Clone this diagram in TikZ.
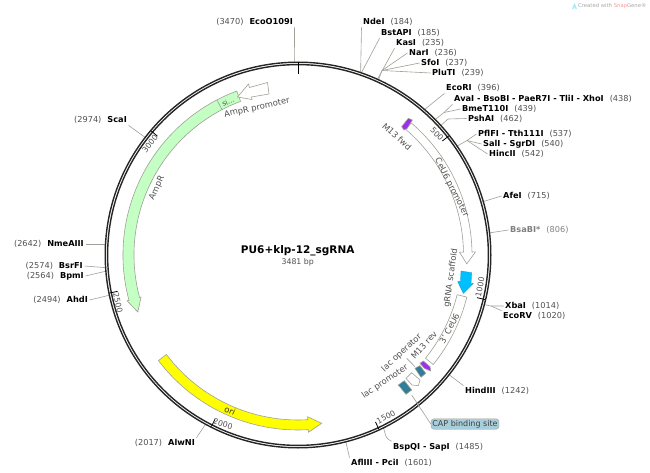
\documentclass[tikz,border=0pt]{standalone}
\usepackage{fontspec}
\setmainfont{DejaVu Sans}
\definecolor{numgray}{HTML}{505050}
\definecolor{linegray}{HTML}{A0A098}
\definecolor{ampgreen}{HTML}{C4FFC4}
\definecolor{oriyellow}{HTML}{FFFF00}
\definecolor{rnablue}{HTML}{00BFFF}
\definecolor{m13purple}{HTML}{9A30E8}
\definecolor{lacteal}{HTML}{2F7F98}
\definecolor{capblue}{HTML}{A8CEDC}
\newcommand{\sname}[1]{\textcolor{black}{\textbf{#1}}}
\tikzset{
  siter/.style={anchor=west, inner sep=1.5pt, text=numgray, font=\fontsize{8.2}{9}\selectfont},
  sitel/.style={anchor=east, inner sep=1.5pt, text=numgray, font=\fontsize{8.2}{9}\selectfont},
  leader/.style={linegray, line width=0.6pt},
  feature/.style={draw=linegray, line width=0.6pt},
  ticklbl/.style={inner sep=0pt, text=numgray, font=\fontsize{7.8}{9}\selectfont},
  featlbl/.style={inner sep=0pt, text=numgray, font=\fontsize{8.4}{9}\selectfont},
  backbone/.style={draw=black!85, line width=1.4pt},
  poltick/.style={black, line width=0.8pt}
}
\begin{document}
\begin{tikzpicture}[x=1pt,y=-1pt]
  \useasboundingbox (0,0) rectangle (650,473);

  % Watermark
  \fill[rnablue!35] (572,9) -- (574.5,3) -- (577,9) -- (575.5,9) -- (574.5,6.5) -- (573.5,9) -- cycle;
  \node (mark) [anchor=west, inner sep=0pt, text=black!35, font=\fontsize{5.3}{7}\selectfont] at (578,6) {Created with \textcolor{red!40}{Snap}Gene®};

  % Enzyme sites, right side
  \node[siter] (NdeI) at (361.5,22) {\sname{NdeI}\hspace{6pt}(184)};
  \node[siter] (BstAPI) at (379.5,33) {\sname{BstAPI}\hspace{6pt}(185)};
  \node[siter] (KasI) at (394.5,43) {\sname{KasI}\hspace{6pt}(235)};
  \node[siter] (NarI) at (407.5,53) {\sname{NarI}\hspace{6pt}(236)};
  \node[siter] (SfoI) at (419.5,63) {\sname{SfoI}\hspace{6pt}(237)};
  \node[siter] (PluTI) at (430.5,73) {\sname{PluTI}\hspace{6pt}(239)};
  \node[siter] (EcoRI) at (444.5,88) {\sname{EcoRI}\hspace{6pt}(396)};
  \node[siter] (AvaI) at (452.5,99) {\sname{AvaI - BsoBI - PaeR7I - TliI - XhoI}\hspace{6pt}(438)};
  \node[siter] (BmeT) at (460.5,109) {\sname{BmeT110I}\hspace{6pt}(439)};
  \node[siter] (PshAI) at (466.5,118.5) {\sname{PshAI}\hspace{6pt}(462)};
  \node[siter] (PflFI) at (476.5,134) {\sname{PflFI - Tth111I}\hspace{6pt}(537)};
  \node[siter] (SalI) at (481.5,144) {\sname{SalI - SgrDI}\hspace{6pt}(540)};
  \node[siter] (HincII) at (487.5,154) {\sname{HincII}\hspace{6pt}(542)};
  \node[siter] (AfeI) at (501.5,196) {\sname{AfeI}\hspace{6pt}(715)};
  \node[siter, text=black!50] (BsaBI) at (508.5,230) {\textbf{BsaBI*}\hspace{6pt}(806)};
  \node[siter] (XbaI) at (503.5,306) {\sname{XbaI}\hspace{6pt}(1014)};
  \node[siter] (EcoRV) at (501.5,316) {\sname{EcoRV}\hspace{6pt}(1020)};
  \node[siter] (HindIII) at (463.5,391) {\sname{HindIII}\hspace{6pt}(1242)};
  \node[siter] (BspQI) at (391.5,447) {\sname{BspQI - SapI}\hspace{6pt}(1485)};
  \node[siter] (AflIII) at (349.5,463) {\sname{AflIII - PciI}\hspace{6pt}(1601)};

  % Enzyme sites, left side
  \node[sitel] (EcoO) at (294.5,22) {(3470)\hspace{6pt}\sname{EcoO109I}};
  \node[sitel] (ScaI) at (128.5,120) {(2974)\hspace{6pt}\sname{ScaI}};
  \node[sitel] (NmeAIII) at (85.5,244) {(2642)\hspace{6pt}\sname{NmeAIII}};
  \node[sitel] (BsrFI) at (84.5,266) {(2574)\hspace{6pt}\sname{BsrFI}};
  \node[sitel] (BpmI) at (85.5,276) {(2564)\hspace{6pt}\sname{BpmI}};
  \node[sitel] (AhdI) at (89.5,300) {(2494)\hspace{6pt}\sname{AhdI}};
  \node[sitel] (AlwNI) at (196.5,443) {(2017)\hspace{6pt}\sname{AlwNI}};

  % Points on the backbone
  \coordinate (rNdeI) at (360.6,73);
  \coordinate (rBstAPI) at (361,73.5);
  \coordinate (rKasI) at (377,80);
  \coordinate (rPluTI) at (378.2,80.6);
  \coordinate (rEcoRI) at (424,110);
  \coordinate (rAvaI) at (434.5,120);
  \coordinate (rPshAI) at (440.3,126);
  \coordinate (rPflFI) at (456.5,146.5);
  \coordinate (rAfeI) at (482.5,201.8);
  \coordinate (rBsaBI) at (488.7,233);
  \coordinate (rXbaI) at (483.6,304.4);
  \coordinate (rHindIII) at (448.5,374.3);
  \coordinate (rBspQI) at (383.4,427);
  \coordinate (rAflIII) at (345.7,441);
  \coordinate (rEcoO) at (294.4,63);
  \coordinate (rScaI) at (146,138);
  \coordinate (rNmeAIII) at (106.3,244);
  \coordinate (rBsrFI) at (106.4,267.7);
  \coordinate (rBpmI) at (106.7,271);
  \coordinate (rAhdI) at (110.3,295);
  \coordinate (rAlwNI) at (206,423.6);

  % Elbows
  \coordinate (kNar) at (382,70.5);
  \coordinate (kAva) at (444,112.5);
  \coordinate (kPsh) at (448,119);
  \coordinate (kPfl) at (467,140.5);
  \coordinate (kXba) at (491,306);

  % Leaders
  \draw[leader] (NdeI.south west) -- (rNdeI);
  \draw[leader] (BstAPI.south west) -- (rBstAPI);
  \draw[leader] (KasI.south west) -- (rKasI);
  \draw[leader] (NarI.west) -- (kNar) -- (rPluTI);
  \draw[leader] (SfoI.west) -- (kNar);
  \draw[leader] (PluTI.west) -- (kNar);
  \draw[leader] (EcoRI.south west) -- (rEcoRI);
  \draw[leader] (AvaI.south west) -- (kAva) -- (rAvaI);
  \draw[leader] (BmeT.west) -- (kAva);
  \draw[leader] (PshAI.west) -- (kPsh) -- (rPshAI);
  \draw[leader] (PflFI.west) -- (kPfl) -- (rPflFI);
  \draw[leader] (SalI.west) -- (kPfl);
  \draw[leader] (HincII.west) -- (kPfl);
  \draw[leader] (AfeI.west) -- (rAfeI);
  \draw[leader] (BsaBI.west) -- (rBsaBI);
  \draw[leader] (XbaI.west) -- (kXba) -- (rXbaI);
  \draw[leader] (EcoRV.north west) -- (kXba);
  \draw[leader] (HindIII.north west) -- (rHindIII);
  \draw[leader] (BspQI.north west) .. controls (386,438) .. (rBspQI);
  \draw[leader] (AflIII.north west) -- (rAflIII);
  \draw[leader] (EcoO.south east) -- (rEcoO);
  \draw[leader] (ScaI.south east) -- (rScaI);
  \draw[leader] (NmeAIII.east) -- (rNmeAIII);
  \draw[leader] (BsrFI.east) -- (rBsrFI);
  \draw[leader] (BpmI.east) -- (rBpmI);
  \draw[leader] (AhdI.east) -- (rAhdI);
  \draw[leader] (AlwNI.north east) -- (rAlwNI);

  \begin{scope}[shift={(298,255)}]
    % Backbone
    \fill[white] (0,0) circle[radius=191.7];
    \draw[backbone] (0,0) circle[radius=192.8];
    \draw[backbone] (0,0) circle[radius=190.4];

    % Ticks
    \draw[poltick] (-90:193) -- (-90:181);
    \draw[poltick] (-38.3:192) -- (-38.3:184);
    \draw[poltick] (13.4:192) -- (13.4:184);
    \draw[poltick] (65.1:192) -- (65.1:184);
    \draw[poltick] (116.8:192) -- (116.8:184);
    \draw[poltick] (168.6:192) -- (168.6:184);
    \draw[poltick] (220.2:192) -- (220.2:184);

    % AmpR
    \draw[feature, fill=ampgreen] (249.5:175) arc[start angle=249.5, end angle=165, radius=175] -- (165:177) -- (160.4:170) -- (165:162.5) -- (165:164) arc[start angle=165, end angle=249.5, radius=164] -- cycle;
    \draw[feature] (242.4:175) -- (242.4:164);

    % ori
    \draw[feature, fill=oriyellow] (142.9:175) arc[start angle=142.9, end angle=86.6, radius=175] -- (86.6:177.5) -- (82:170) -- (86.6:162) -- (86.6:165) arc[start angle=86.6, end angle=142.9, radius=165] -- cycle;

    % CeU6 promoter
    \draw[feature, fill=white] (-49.4:174) arc[start angle=-49.4, end angle=-1, radius=174] -- (-1:177.5) -- (3:169) -- (-1:161.5) -- (-1:165.5) arc[start angle=-1, end angle=-49.4, radius=165.5] -- cycle;

    % 3' CeU6
    \draw[feature, fill=white] (14:174) arc[start angle=14, end angle=39, radius=174] -- (39:164) arc[start angle=39, end angle=14, radius=164] -- cycle;
  \end{scope}

  % Small features
  \draw[feature, fill=m13purple] (401.7,126.7) -- (408.3,118.3) -- (412.3,120) -- (407.3,128.3) -- (404,130) -- cycle;
  \draw[feature, fill=m13purple] (420,363.3) -- (423.3,361) -- (430,366.7) -- (430.7,371) -- (424.3,368.3) -- cycle;
  \draw[feature, fill=lacteal] (415,368.3) -- (420,365.7) -- (425.7,373.3) -- (421,377.3) -- cycle;
  \draw[feature, fill=white] (406,378.3) -- (411.7,372.7) -- (420,380) -- (418.3,385.7) -- (412,385) -- cycle;
  \draw[feature, fill=lacteal] (398.3,385) -- (404.3,380.7) -- (411.7,390) -- (406,394.3) -- cycle;
  \draw[draw=rnablue!80!black, line width=0.3pt, fill=rnablue] (461,271) -- (471.7,272.7) -- (471,283.3) -- (473.3,283.3) -- (463.3,293.3) -- (457.7,281.7) -- (460.5,281) -- cycle;
  \draw[feature, fill=white] (237.5,97) -- (248.5,84) -- (249.5,87.5) -- (267.5,82.5) -- (269,94) -- (251.5,97) -- (252,99.5) -- cycle;

  % CAP binding site
  \node[draw=linegray, fill=capblue, rounded corners=3pt, inner sep=0pt, minimum width=68pt, minimum height=10.5pt, text=black!75, font=\fontsize{8}{9}\selectfont] (CAP) at (465,424) {CAP binding site};
  \coordinate (rCAP) at (411.7,395);
  \coordinate (rLac) at (415,366.7);
  \coordinate (lLac) at (406.7,358.3);
  \draw[leader] (CAP.west) -- (rCAP);
  \draw[leader] (lLac) -- (rLac);

  % Tick labels
  \node[ticklbl, rotate=-47] (t500) at (437,134) {500};
  \node[ticklbl, rotate=79] (t1000) at (480,287) {1000};
  \node[ticklbl, rotate=27] (t1500) at (386,417) {1500};
  \node[ticklbl, rotate=-17] (t2000) at (223,424) {2000};
  \node[ticklbl, rotate=-78] (t2500) at (118,303) {2500};
  \node[ticklbl, rotate=52] (t3000) at (150,144) {3000};

  % Feature labels
  \node[featlbl, rotate=12] (lAmpP) at (257,108) {AmpR promoter};
  \node[featlbl, rotate=65] (lAmp) at (157,188) {AmpR};
  \node[featlbl, rotate=22, font=\fontsize{7}{8}\selectfont] (lSig) at (228,102) {si...};
  \node[featlbl, rotate=-25, text=black!80] (lOri) at (230,410.7) {ori};
  \node[featlbl, rotate=-42] (lFwd) at (397,136.7) {M13 fwd};
  \node[featlbl, rotate=-63] (lCeU) at (451.5,187.5) {CeU6 promoter};
  \node[featlbl, rotate=82] (lScaf) at (451,278) {gRNA scaffold};
  \node[featlbl, rotate=62] (l3CeU) at (449.5,328.5) {3' CeU6};
  \node[featlbl, rotate=48] (lRev) at (424,345) {M13 rev};
  \node[featlbl, rotate=43] (lOp) at (401.7,353) {lac operator};
  \node[featlbl, rotate=34] (lPro) at (385,381.7) {lac promoter};

  % Plasmid name
  \node[inner sep=0pt, font=\fontsize{10.5}{12}\bfseries\selectfont] (plasmid) at (297.7,251) {PU6+klp-12\_sgRNA};
  \node[inner sep=0pt, text=numgray, font=\fontsize{7.8}{9}\selectfont] (size) at (297.7,262) {3481 bp};
\end{tikzpicture}
\end{document}
